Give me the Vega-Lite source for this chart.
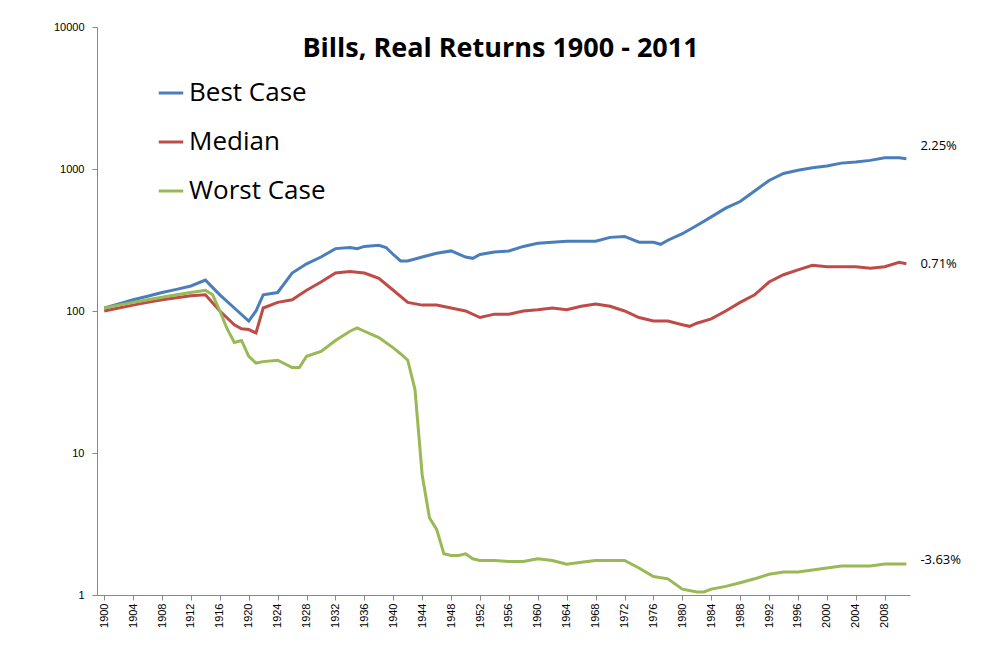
{
"$schema":"https://vega.github.io/schema/vega-lite/v6.json",
"autosize":{"type":"none"},
"width":813,"height":568,
"padding":{"left":97,"top":27,"right":87,"bottom":57},
"background":"white",
"title":{"text":"Bills, Real Returns 1900 - 2011","fontSize":27,"fontWeight":"bold","font":"Open Sans","anchor":"start","dx":249,"offset":-42,"color":"#000"},
"datasets":{
"best":[[1900,105],[1902,112],[1904,120],[1906,127],[1908,135],[1910,142],[1912,150],[1914,165],[1916,130],[1918,105],[1920,85],[1921,100],[1922,130],[1924,135],[1926,185],[1928,215],[1930,240],[1932,275],[1934,280],[1935,275],[1936,285],[1938,290],[1939,280],[1940,250],[1941,225],[1942,225],[1944,240],[1946,255],[1948,265],[1950,240],[1951,235],[1952,250],[1954,260],[1956,265],[1958,285],[1960,300],[1962,305],[1964,310],[1966,310],[1968,310],[1970,330],[1972,335],[1974,305],[1976,305],[1977,295],[1978,315],[1980,350],[1982,400],[1984,460],[1986,530],[1988,590],[1990,700],[1992,830],[1994,930],[1996,980],[1998,1020],[2000,1050],[2002,1100],[2004,1120],[2006,1150],[2008,1200],[2010,1200],[2011,1180]],
"median":[[1900,100],[1902,105],[1904,110],[1906,115],[1908,120],[1910,124],[1912,128],[1914,130],[1916,100],[1918,80],[1919,75],[1920,74],[1921,70],[1922,105],[1924,115],[1926,120],[1928,140],[1930,160],[1932,185],[1934,190],[1936,185],[1938,170],[1940,140],[1942,115],[1944,110],[1946,110],[1948,105],[1950,100],[1952,90],[1954,95],[1956,95],[1958,100],[1960,102],[1962,105],[1964,102],[1966,108],[1968,112],[1970,108],[1972,100],[1974,90],[1976,85],[1978,85],[1980,80],[1981,78],[1982,82],[1984,88],[1986,100],[1988,115],[1990,130],[1992,160],[1994,180],[1996,195],[1998,210],[2000,205],[2002,205],[2004,205],[2006,200],[2008,205],[2010,220],[2011,215]],
"worst":[[1900,105],[1902,110],[1904,115],[1906,120],[1908,125],[1910,130],[1912,135],[1914,140],[1915,130],[1916,100],[1917,75],[1918,60],[1919,62],[1920,48],[1921,43],[1922,44],[1924,45],[1926,40],[1927,40],[1928,48],[1930,52],[1932,62],[1934,72],[1935,76],[1936,72],[1938,65],[1940,55],[1941,50],[1942,45],[1943,28],[1944,7],[1945,3.5],[1946,2.9],[1947,1.95],[1948,1.9],[1949,1.9],[1950,1.95],[1951,1.8],[1952,1.75],[1954,1.75],[1956,1.72],[1958,1.72],[1960,1.8],[1962,1.75],[1964,1.65],[1966,1.7],[1968,1.75],[1970,1.75],[1972,1.75],[1974,1.55],[1976,1.35],[1978,1.3],[1980,1.1],[1982,1.05],[1983,1.05],[1984,1.1],[1986,1.15],[1988,1.22],[1990,1.3],[1992,1.4],[1994,1.45],[1996,1.45],[1998,1.5],[2000,1.55],[2002,1.6],[2004,1.6],[2006,1.6],[2008,1.65],[2010,1.65],[2011,1.65]],
"labels":[{"year":2011,"v":1450,"label":"2.25%"},{"year":2011,"v":215,"label":"0.71%"},{"year":2011,"v":1.75,"label":"-3.63%"}]
},
"layer":[
{"data":{"name":"best"},"transform":[{"calculate":"datum[0]","as":"year"},{"calculate":"datum[1]","as":"v"},{"calculate":"'Best Case'","as":"series"}],"mark":{"type":"line","strokeWidth":3},"encoding":{"color":{"field":"series","type":"nominal"}}},
{"data":{"name":"median"},"transform":[{"calculate":"datum[0]","as":"year"},{"calculate":"datum[1]","as":"v"},{"calculate":"'Median'","as":"series"}],"mark":{"type":"line","strokeWidth":3},"encoding":{"color":{"field":"series","type":"nominal"}}},
{"data":{"name":"worst"},"transform":[{"calculate":"datum[0]","as":"year"},{"calculate":"datum[1]","as":"v"},{"calculate":"'Worst Case'","as":"series"}],"mark":{"type":"line","strokeWidth":3},"encoding":{"color":{"field":"series","type":"nominal"}}},
{"data":{"name":"labels"},"mark":{"type":"text","align":"left","dx":14,"fontSize":13,"font":"Open Sans"},"encoding":{"x":{"field":"year","type":"quantitative"},"y":{"field":"v","type":"quantitative"},"text":{"field":"label"},"color":{"value":"#000"}}}
],
"encoding":{
"x":{"field":"year","type":"quantitative","scale":{"domain":[1899,2011.5],"nice":false,"zero":false},
"axis":{"title":null,"values":[1900,1904,1908,1912,1916,1920,1924,1928,1932,1936,1940,1944,1948,1952,1956,1960,1964,1968,1972,1976,1980,1984,1988,1992,1996,2000,2004,2008],"format":"d","labelAngle":-90,"labelFontSize":11,"labelColor":"#000","domainColor":"#888","tickColor":"#888","grid":false,"labelPadding":3}},
"y":{"field":"v","type":"quantitative","scale":{"type":"log","domain":[1,10000],"nice":false},
"axis":{"title":null,"values":[1,10,100,1000,10000],"format":"d","labelFontSize":11,"labelColor":"#000","domainColor":"#888","tickColor":"#888","grid":false,"labelPadding":8}}
},
"resolve":{"scale":{"color":"shared"}},
"config":{"view":{"stroke":null},"font":"Liberation Sans",
"range":{"category":["#4a7ebb","#be4b48","#98b954"]},
"legend":{"title":null,"orient":"none","legendX":60,"legendY":52,"labelFontSize":26,"labelFont":"Open Sans","labelColor":"#000","symbolType":"stroke","symbolStrokeWidth":3,"symbolSize":600,"rowPadding":22,"labelLimit":300}}
}
